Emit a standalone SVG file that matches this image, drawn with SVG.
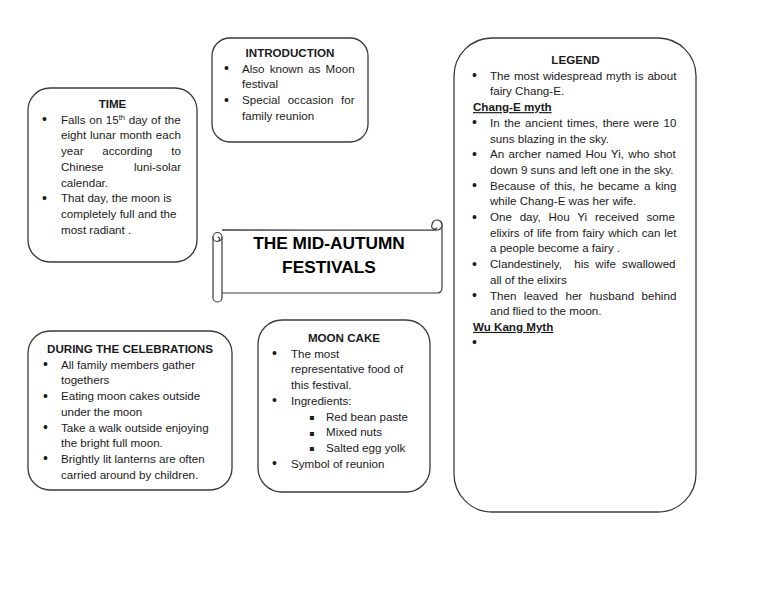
<svg xmlns="http://www.w3.org/2000/svg" width="768" height="594" viewBox="0 0 768 594">
<style>
.box{fill:#fff;stroke:#3a3a3a;stroke-width:1.3}
.scroll{fill:#fff;stroke:#3a3a3a;stroke-width:1.2;stroke-linejoin:round}
text{font-family:"Liberation Sans",Arial,sans-serif;font-size:11.6px;fill:#1a1a1a}
.h{font-weight:bold;text-anchor:middle}
.u{font-weight:bold;text-decoration:underline}
.title{font-weight:bold;font-size:17.3px;text-anchor:middle;fill:#000}
.bl{font-size:14px}
.sq{font-family:"DejaVu Sans",sans-serif;font-size:8px}
</style>
<rect width="768" height="594" fill="#fff"/>
<g id="connectors"></g>

<g id="time">
<rect class="box" x="28" y="88" width="169" height="174" rx="22"/>
<text class="h" x="112.5" y="108">TIME</text>
<text class="bl" x="42" y="124.2">•</text>
<text x="61" y="123.7" style="word-spacing:0.5px">Falls on 15<tspan font-size="7.5px" dy="-4">th</tspan><tspan dy="4"> day of the</tspan></text>
<text x="61" y="139.4" style="word-spacing:0.67px">eight lunar month each</text>
<text x="61" y="155.1" style="word-spacing:15.5px">year according to</text>
<text x="61" y="170.8" style="word-spacing:27.2px">Chinese luni-solar</text>
<text x="61" y="186.5">calendar.</text>
<text class="bl" x="42" y="202.7">•</text>
<text x="61" y="202.2">That day, the moon is</text>
<text x="61" y="217.9">completely full and the</text>
<text x="61" y="233.6">most radiant .</text>
</g>

<g id="introduction">
<rect class="box" x="212" y="38" width="156" height="104" rx="18"/>
<text class="h" x="290" y="57">INTRODUCTION</text>
<text class="bl" x="224" y="73.2">•</text>
<text x="242" y="72.7" style="word-spacing:1.87px">Also known as Moon</text>
<text x="242" y="88.4">festival</text>
<text class="bl" x="224" y="104.6">•</text>
<text x="242" y="104.1" style="word-spacing:4.4px">Special occasion for</text>
<text x="242" y="119.8">family reunion</text>
</g>

<g id="title">
<path class="scroll" d="M222,230 H437 M442,225 V288 Q442,293 437,293 H222"/>
<path class="scroll" d="M222,230 H437 A5,5 0 1 0 432,225 A2.5,2.5 0 0 0 437,227.5" fill="none"/>
<path class="scroll" d="M442,225 A5,5 0 0 0 437,220" fill="none"/>
<path class="scroll" d="M222,237 V297.5 A4.5,4.5 0 0 1 213,297.5 V237 A4.5,4.5 0 0 1 222,237 Z"/>
<path class="scroll" d="M213,237 A4.5,4.5 0 0 0 222,237 M217.5,237 A2.2,2.2 0 1 1 217.5,241.4" fill="none"/>
<text class="title" x="329" y="249.3">THE MID-AUTUMN</text>
<text class="title" x="329" y="273.3">FESTIVALS</text>
</g>

<g id="legend">
<rect class="box" x="454" y="38" width="242" height="474" rx="38"/>
<text class="h" x="575.5" y="64">LEGEND</text>
<text class="bl" x="472" y="80.2">•</text>
<text x="490" y="79.7" style="word-spacing:0.68px">The most widespread myth is about</text>
<text x="490" y="95.4">fairy Chang-E.</text>
<text class="u" x="473" y="111.1">Chang-E myth</text>
<text class="bl" x="472" y="127.3">•</text>
<text x="490" y="126.8" style="word-spacing:1.42px">In the ancient times, there were 10</text>
<text x="490" y="142.5">suns blazing in the sky.</text>
<text class="bl" x="472" y="158.7">•</text>
<text x="490" y="158.2" style="word-spacing:1.1px">An archer named Hou Yi, who shot</text>
<text x="490" y="173.9">down 9 suns and left one in the sky.</text>
<text class="bl" x="472" y="190.1">•</text>
<text x="490" y="189.6" style="word-spacing:1.53px">Because of this, he became a king</text>
<text x="490" y="205.3">while Chang-E was her wife.</text>
<text class="bl" x="472" y="221.5">•</text>
<text x="490" y="221" style="word-spacing:4.54px">One day, Hou Yi received some</text>
<text x="490" y="236.7" style="word-spacing:0.58px">elixirs of life from fairy which can let</text>
<text x="490" y="252.4">a people become a fairy .</text>
<text class="bl" x="472" y="268.6">•</text>
<text x="490" y="268.1" xml:space="preserve" style="word-spacing:2.95px">Clandestinely,  his wife swallowed</text>
<text x="490" y="283.8">all of the elixirs</text>
<text class="bl" x="472" y="300">•</text>
<text x="490" y="299.5" style="word-spacing:4.2px">Then leaved her husband behind</text>
<text x="490" y="315.2">and flied to the moon.</text>
<text class="u" x="473" y="330.9">Wu Kang Myth</text>
<text class="bl" x="472" y="347.1">•</text>
</g>

<g id="during">
<rect class="box" x="28" y="331" width="204" height="159" rx="22"/>
<text class="h" x="130" y="353">DURING THE CELEBRATIONS</text>
<text class="bl" x="43" y="369.2">•</text>
<text x="61" y="368.7">All family members gather</text>
<text x="61" y="384.4">togethers</text>
<text class="bl" x="43" y="400.6">•</text>
<text x="61" y="400.1">Eating moon cakes outside</text>
<text x="61" y="415.8">under the moon</text>
<text class="bl" x="43" y="432">•</text>
<text x="61" y="431.5">Take a walk outside enjoying</text>
<text x="61" y="447.2">the bright full moon.</text>
<text class="bl" x="43" y="463.4">•</text>
<text x="61" y="462.9">Brightly lit lanterns are often</text>
<text x="61" y="478.6">carried around by children.</text>
</g>

<g id="mooncake">
<rect class="box" x="258" y="320" width="172" height="172" rx="24"/>
<text class="h" x="344" y="342">MOON CAKE</text>
<text class="bl" x="272" y="358.2">•</text>
<text x="291" y="357.7">The most</text>
<text x="291" y="373.4">representative food of</text>
<text x="291" y="389.1">this festival.</text>
<text class="bl" x="272" y="405.3">•</text>
<text x="291" y="404.8">Ingredients:</text>
<text class="sq" x="309" y="420">▪</text>
<text x="326" y="420.5">Red bean paste</text>
<text class="sq" x="309" y="435.7">▪</text>
<text x="326" y="436.2">Mixed nuts</text>
<text class="sq" x="309" y="451.4">▪</text>
<text x="326" y="451.9">Salted egg yolk</text>
<text class="bl" x="272" y="468.1">•</text>
<text x="291" y="467.6">Symbol of reunion</text>
</g>
</svg>
